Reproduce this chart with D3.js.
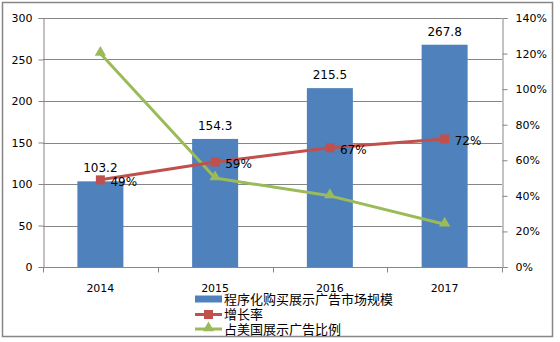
<!DOCTYPE html>
<html>
<head>
<meta charset="utf-8">
<script src="https://cdn.jsdelivr.net/npm/d3@7"></script>
<style>
  html, body { margin: 0; padding: 0; background: #fff; }
  svg { display: block; }
  text { font-family: "DejaVu Sans", Verdana, sans-serif; fill: #000; }
  .cjk { font-family: "Noto Sans CJK SC", sans-serif; }
</style>
</head>
<body>
<script>
// Programmatic display advertising: market size (bars, left axis)
// plus growth rate and share of US display ads (lines, right axis)
const years = ["2014", "2015", "2016", "2017"];
const marketSize = [103.2, 154.3, 215.5, 267.8];
const growthRate = [0.49, 0.59, 0.67, 0.72];
const usShare = [1.20, 0.50, 0.40, 0.24];
const leftTicks = [0, 50, 100, 150, 200, 250, 300];
const rightTicks = [0, 0.2, 0.4, 0.6, 0.8, 1.0, 1.2, 1.4];
const seriesNames = ["程序化购买展示广告市场规模", "增长率", "占美国展示广告比例"];

const W = 560, H = 342;
const colors = { bar: "#4F81BD", red: "#C0504D", green: "#9BBB59", axis: "#868686" };

const svg = d3.select("body").append("svg").attr("width", W).attr("height", H);

// chart frame
svg.append("rect").attr("x", 2.5).attr("y", 2.5).attr("width", 550).attr("height", 334)
  .attr("fill", "#fff").attr("stroke", colors.axis).attr("stroke-width", 1.5);

const plot = { left: 43, right: 502, top: 18, bottom: 267 };

const x = d3.scaleBand().domain(years).range([plot.left, plot.right]).padding(0);
const yL = d3.scaleLinear().domain([0, 300]).range([plot.bottom, plot.top]);
const yR = d3.scaleLinear().domain([0, 1.4]).range([plot.bottom, plot.top]);
const cx = d => x(d) + x.bandwidth() / 2;

// horizontal gridlines
svg.append("g").selectAll("line").data(leftTicks.filter(t => t > 0)).join("line")
  .attr("x1", plot.left).attr("x2", plot.right)
  .attr("y1", d => Math.round(yL(d)) + 0.5).attr("y2", d => Math.round(yL(d)) + 0.5)
  .attr("stroke", colors.axis).attr("stroke-width", 1);

// bars
const barW = 46;
svg.append("g").selectAll("rect").data(years).join("rect")
  .attr("x", (d) => cx(d) - barW / 2)
  .attr("y", (d, i) => yL(marketSize[i]))
  .attr("width", barW)
  .attr("height", (d, i) => yL(0) - yL(marketSize[i]))
  .attr("fill", colors.bar);

// left axis
const gL = svg.append("g").attr("transform", `translate(${plot.left + 0.5},0)`)
  .call(d3.axisLeft(yL).tickValues(leftTicks).tickSize(5).tickPadding(6).tickFormat(d3.format("d")));
// right axis
const gR = svg.append("g").attr("transform", `translate(${plot.right + 0.5},0)`)
  .call(d3.axisRight(yR).tickValues(rightTicks).tickSize(5).tickPadding(8).tickFormat(d3.format(".0%")));
// bottom axis with ticks at category boundaries
const gB = svg.append("g").attr("transform", `translate(0,${Math.round(plot.bottom) + 0.5})`)
  .call(d3.axisBottom(x).tickSize(0).tickPadding(17));
gB.selectAll(".tick-b").data(d3.range(years.length + 1)).join("line")
  .attr("x1", i => Math.round(plot.left + i * x.bandwidth()) + 0.5)
  .attr("x2", i => Math.round(plot.left + i * x.bandwidth()) + 0.5)
  .attr("y1", 0).attr("y2", 5).attr("stroke", colors.axis);

[gL, gR, gB].forEach(g => {
  g.select(".domain").attr("stroke", colors.axis).attr("stroke-width", 1);
  g.selectAll(".tick line").attr("stroke", colors.axis);
  g.selectAll("text").style("font-family", "DejaVu Sans, sans-serif").style("font-size", "11px").attr("fill", "#000");
});
gB.select(".domain").attr("d", `M${plot.left},0H${plot.right}`);

// bar value labels
svg.append("g").selectAll("text").data(years).join("text")
  .attr("x", d => cx(d)).attr("y", (d, i) => yL(marketSize[i]) - 9)
  .attr("text-anchor", "middle").style("font-size", "12px")
  .text((d, i) => marketSize[i].toFixed(1));

// lines
const line = d3.line().x(d => cx(d.year)).y(d => yR(d.v));
const redData = years.map((y, i) => ({ year: y, v: growthRate[i] }));
const greenData = years.map((y, i) => ({ year: y, v: usShare[i] }));

svg.append("path").datum(greenData).attr("d", line)
  .attr("fill", "none").attr("stroke", colors.green).attr("stroke-width", 3).attr("stroke-linejoin", "round");
svg.append("path").datum(redData).attr("d", line)
  .attr("fill", "none").attr("stroke", colors.red).attr("stroke-width", 3).attr("stroke-linejoin", "round");

const tri = d3.symbol().type(d3.symbolTriangle).size(56);
svg.append("g").selectAll("path").data(greenData).join("path")
  .attr("transform", d => `translate(${cx(d.year)},${yR(d.v) - 1})`)
  .attr("d", tri).attr("fill", colors.green);

svg.append("g").selectAll("rect").data(redData).join("rect")
  .attr("x", d => cx(d.year) - 4.5).attr("y", d => yR(d.v) - 4.5)
  .attr("width", 9).attr("height", 9).attr("fill", colors.red);

// growth rate labels
svg.append("g").selectAll("text").data(redData).join("text")
  .attr("x", d => cx(d.year) + 10).attr("y", d => yR(d.v) + 6)
  .style("font-size", "12px")
  .text(d => Math.round(d.v * 100) + "%");

// legend
const lg = svg.append("g").attr("transform", "translate(195,0)");
const rows = [299, 314.5, 329];
lg.append("rect").attr("x", 0).attr("y", rows[0] - 3.5).attr("width", 27).attr("height", 7).attr("fill", colors.bar);
lg.append("line").attr("x1", 0).attr("x2", 27).attr("y1", rows[1]).attr("y2", rows[1])
  .attr("stroke", colors.red).attr("stroke-width", 3);
lg.append("rect").attr("x", 9).attr("y", rows[1] - 4.5).attr("width", 9).attr("height", 9).attr("fill", colors.red);
lg.append("line").attr("x1", 0).attr("x2", 27).attr("y1", rows[2]).attr("y2", rows[2])
  .attr("stroke", colors.green).attr("stroke-width", 3);
lg.append("path").attr("transform", `translate(13.5,${rows[2] - 1})`).attr("d", tri).attr("fill", colors.green);
lg.selectAll("text.lbl").data(seriesNames).join("text")
  .attr("class", "lbl cjk").attr("x", 29).attr("y", (d, i) => rows[i])
  .attr("dy", "0.36em").style("font-size", "13px").text(d => d);
</script>
</body>
</html>
